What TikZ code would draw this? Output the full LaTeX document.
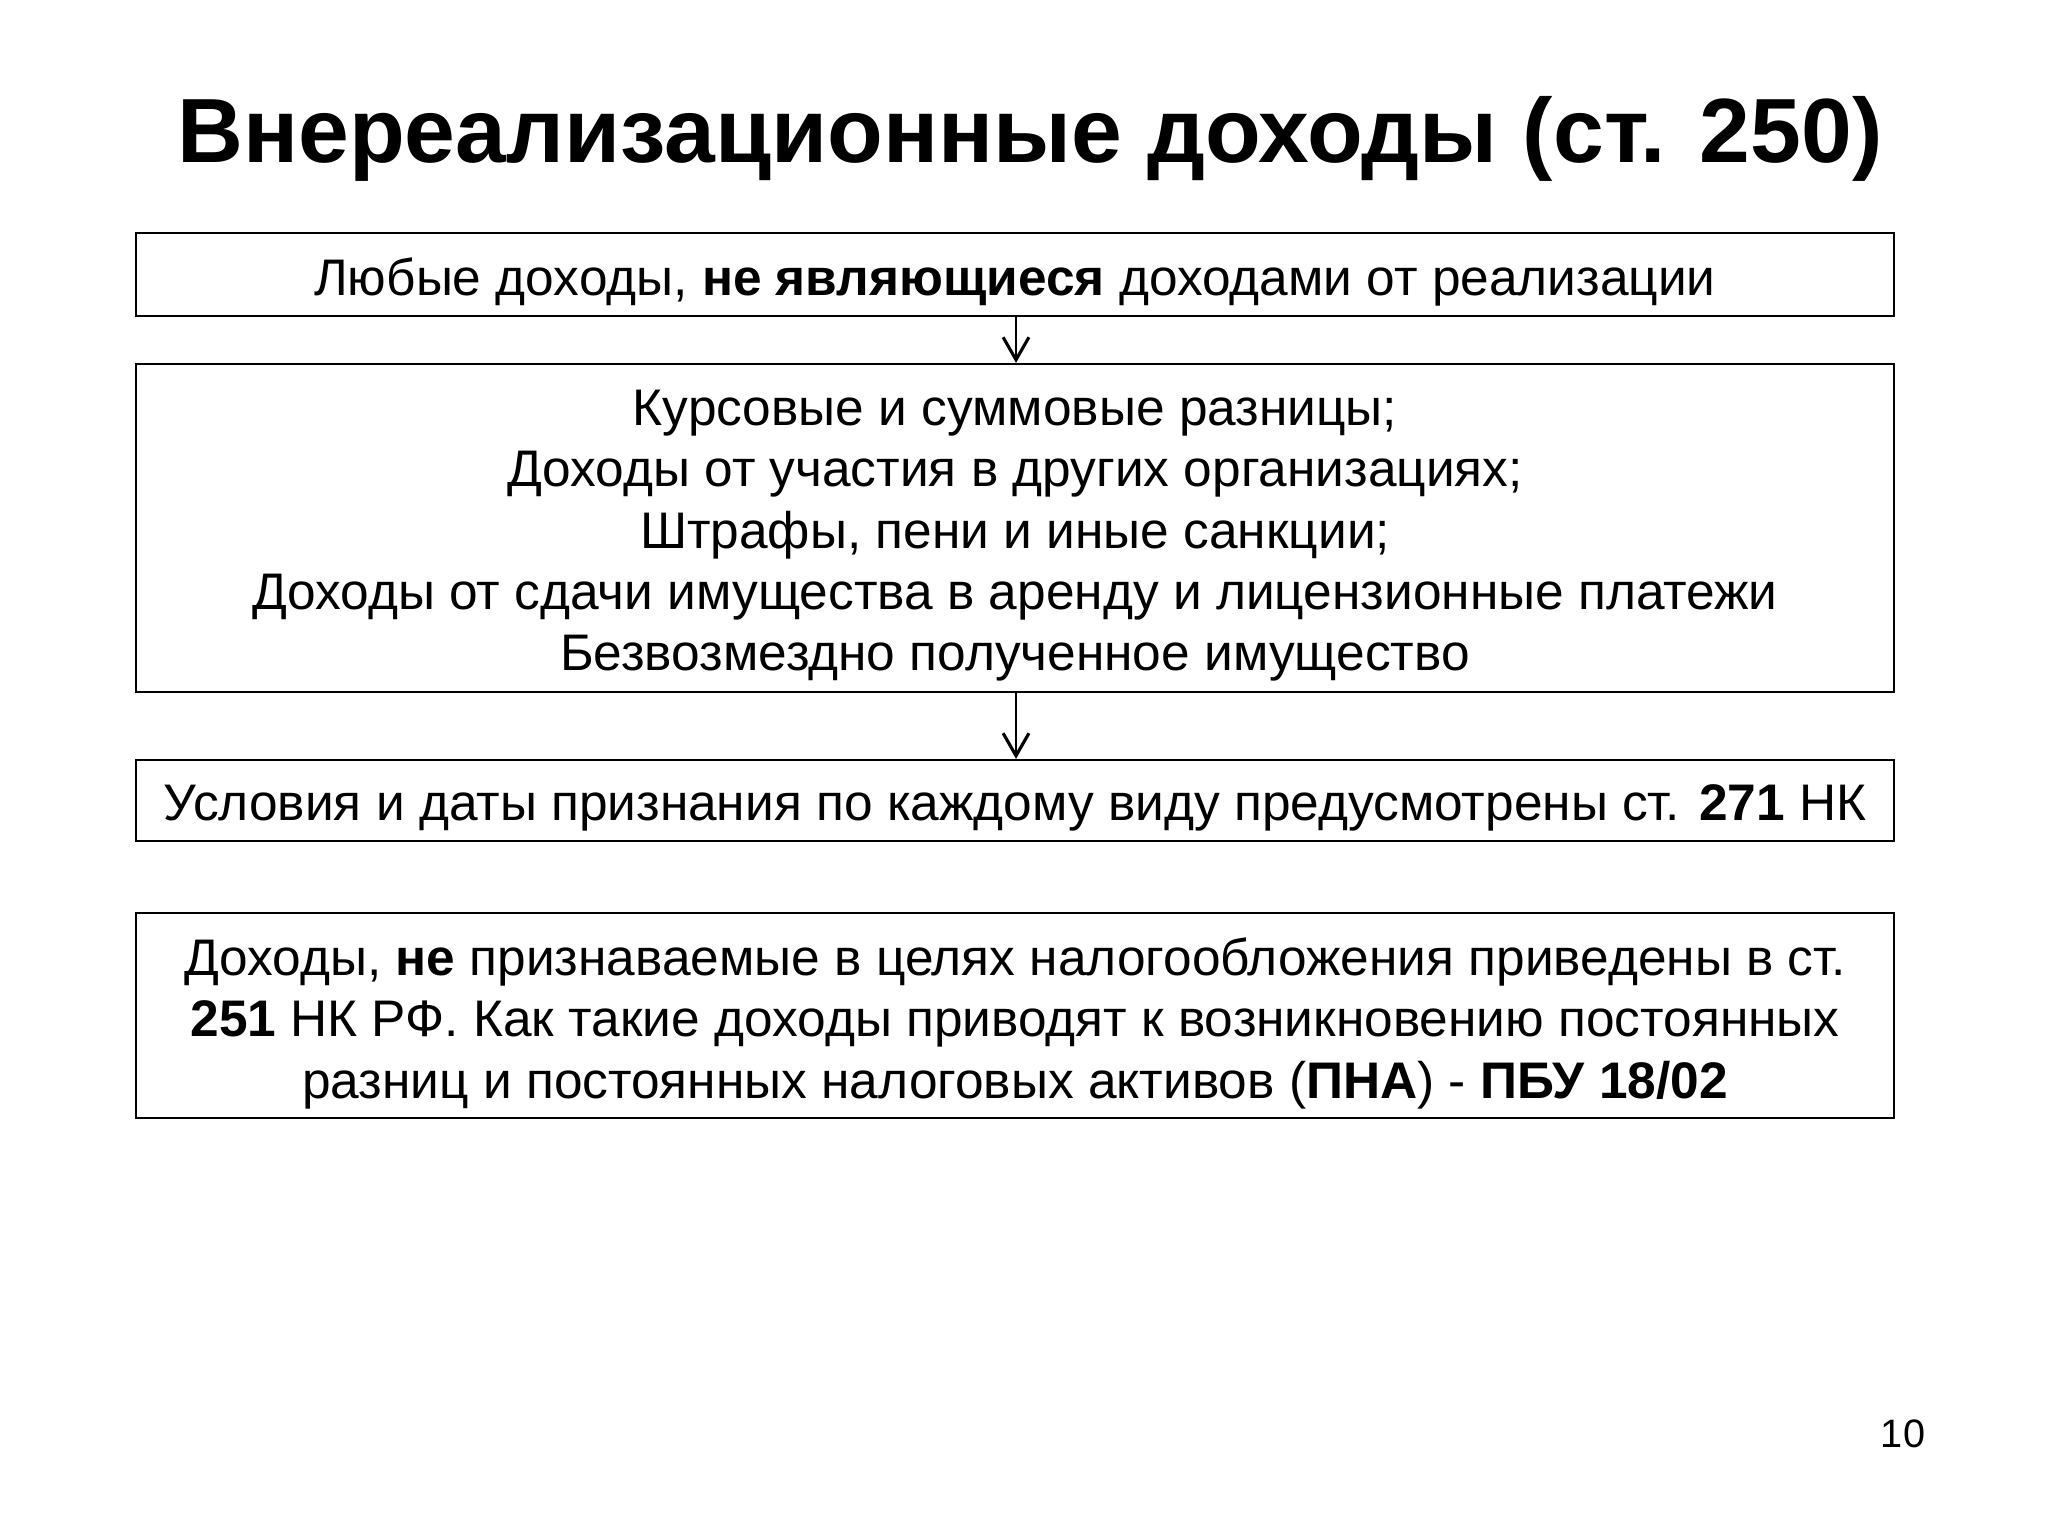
\documentclass[tikz,border=0pt]{standalone}
\usepackage{fontspec}
\setmainfont{Liberation Sans}
\usetikzlibrary{arrows.meta}
\tikzset{
  boxnode/.style={draw=black, line width=0.8pt, rectangle, inner sep=0pt,
    minimum width=21.80cm},
  boxtext/.style={inner sep=0pt, align=center, yshift=-0.095cm,
    font=\fontsize{18.15}{21.7}\selectfont},
  flowarrow/.style={line width=0.55pt, -{Straight Barb[length=2.8mm,width=3.2mm,line width=1.1pt]}}
}
\begin{document}
\begin{tikzpicture}[x=0.0124cm, y=-0.0124cm]
\useasboundingbox[fill=white] (0,0) rectangle (2048,1536);
\node[font=\fontsize{32.2}{38}\selectfont\bfseries, anchor=base] (title) at (1030,163) {Внереализационные доходы (ст. 250)};
\node[boxnode, minimum height=1.029cm] (b1) at (1015,274.5) {};
\node[boxnode, minimum height=4.067cm] (b2) at (1015,528) {};
\node[boxnode, minimum height=1.004cm] (b3) at (1015,800.5) {};
\node[boxnode, minimum height=2.542cm] (b4) at (1015,1015.5) {};
\node[boxtext] (t1) at (b1.center) {Любые доходы, \textbf{не являющиеся} доходами от реализации};
\node[boxtext] (t2) at (b2.center) {Курсовые и суммовые разницы;\\Доходы от участия в других организациях;\\Штрафы, пени и иные санкции;\\Доходы от сдачи имущества в аренду и лицензионные платежи\\Безвозмездно полученное имущество};
\node[boxtext] (t3) at (b3.center) {Условия и даты признания по каждому виду предусмотрены ст. \textbf{271} НК};
\node[boxtext] (t4) at (b4.center) {Доходы, \textbf{не} признаваемые в целях налогообложения приведены в ст.\\\textbf{251} НК РФ. Как такие доходы приводят к возникновению постоянных\\разниц и постоянных налоговых активов (\textbf{ПНА}) - \textbf{ПБУ 18/02}};
\draw[flowarrow] (b1.south -| 1016,0) -- (b2.north -| 1016,0);
\draw[flowarrow] (b2.south -| 1016,0) -- (b3.north -| 1016,0);
\node[font=\fontsize{14}{16}\selectfont, anchor=base] (pnum) at (1903,1447) {10};
\end{tikzpicture}
\end{document}
